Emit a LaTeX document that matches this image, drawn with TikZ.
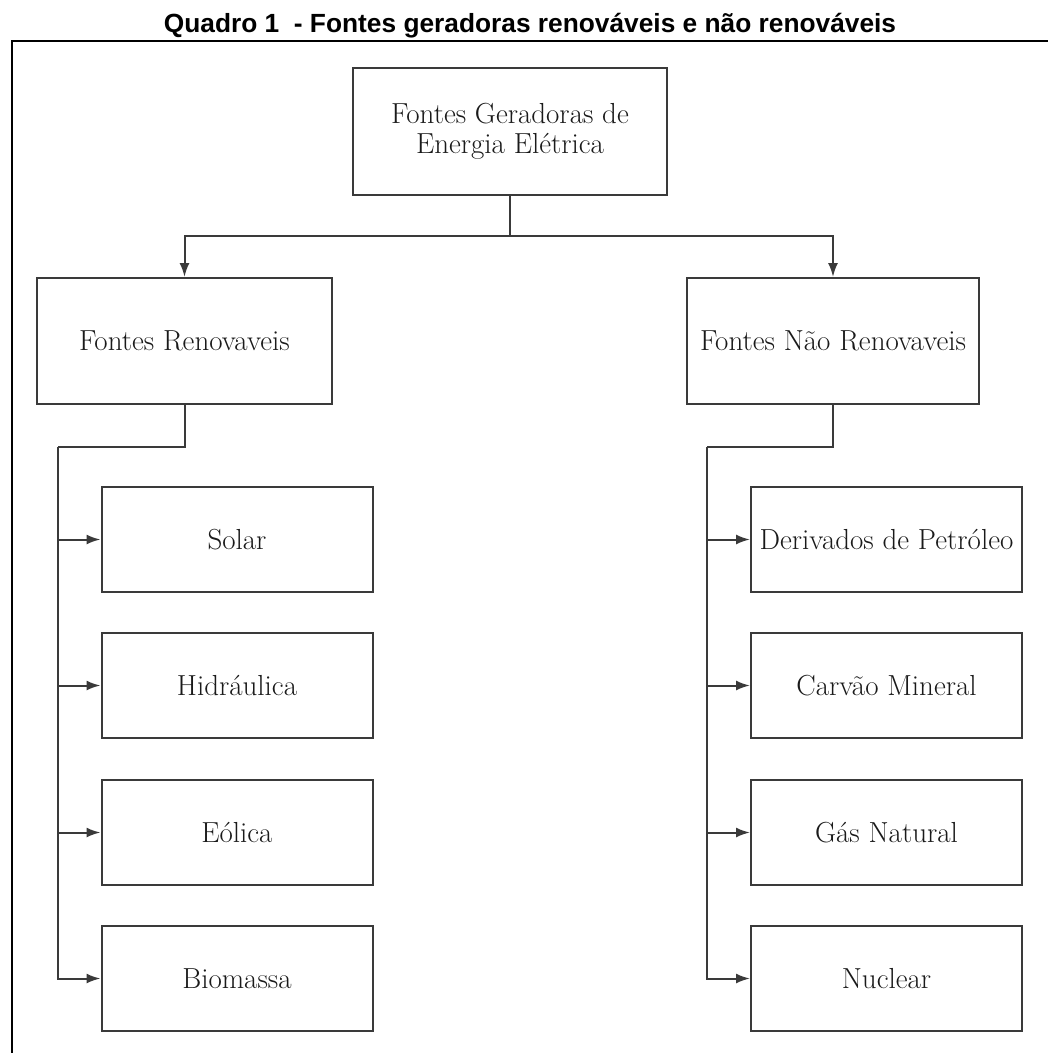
\documentclass[tikz,border=0pt]{standalone}
\usepackage{fontspec}
\newfontfamily\titlefont{Liberation Sans}
\usetikzlibrary{arrows.meta}
\definecolor{boxline}{HTML}{3A3A3A}
\definecolor{txt}{HTML}{1A1A1A}
\tikzset{
  box/.style={draw=boxline, line width=2pt, rectangle, align=center, inner sep=0pt,
    text=txt, font=\fontsize{29}{30}\selectfont},
  bigbox/.style={box, minimum width=#1, minimum height=126pt},
  smallbox/.style={box, minimum width=271pt, minimum height=105pt},
  conn/.style={draw=boxline, line width=2pt},
  arr/.style={conn, -{Latex[length=14pt,width=10pt]}},
  frame/.style={draw=black, line width=2.6pt}
}
\begin{document}
\begin{tikzpicture}[x=1pt,y=-1pt]
\useasboundingbox (0,0) rectangle (1048,1053);
% title and frame
\node[font=\titlefont\bfseries\fontsize{26.3}{30}\selectfont, anchor=base] (title) at (530,32)
  {Quadro 1\ \ - Fontes geradoras renováveis e não renováveis};
\coordinate (fr1) at (1050,41);
\coordinate (fr2) at (12,41);
\coordinate (fr3) at (12,1055);
\draw[frame] (fr1) -- (fr2) -- (fr3);
% boxes
\node[box, minimum width=314pt, minimum height=127pt] (top) at (510,131.5)
  {Fontes Geradoras de\\Energia Elétrica};
\node[bigbox=295pt] (ren) at (184.5,341) {Fontes Renovaveis};
\node[bigbox=292pt] (nren) at (833,341) {Fontes Não Renovaveis};
\node[smallbox] (solar) at (237,539.5) {Solar};
\node[smallbox] (hidr) at (237,685.5) {Hidráulica};
\node[smallbox] (eol) at (237,832.5) {Eólica};
\node[smallbox] (bio) at (237,978.5) {Biomassa};
\node[smallbox] (petr) at (886.5,539.5) {Derivados de Petróleo};
\node[smallbox] (carv) at (886.5,685.5) {Carvão Mineral};
\node[smallbox] (gas) at (886.5,832.5) {Gás Natural};
\node[smallbox] (nucl) at (886.5,978.5) {Nuclear};
% top connectors
\coordinate (hub) at (510,236);
\draw[conn] (top.south) -- (hub);
\draw[arr] (hub) -| (ren.north);
\draw[arr] (hub) -| (nren.north);
% left column
\coordinate (lb) at (58,447);
\draw[conn] (ren.south) |- (lb);
\draw[arr] (lb) |- (bio.west);
\draw[arr] (solar.west -| lb) -- (solar.west);
\draw[arr] (hidr.west -| lb) -- (hidr.west);
\draw[arr] (eol.west -| lb) -- (eol.west);
% right column
\coordinate (rb) at (707,447);
\draw[conn] (nren.south) |- (rb);
\draw[arr] (rb) |- (nucl.west);
\draw[arr] (petr.west -| rb) -- (petr.west);
\draw[arr] (carv.west -| rb) -- (carv.west);
\draw[arr] (gas.west -| rb) -- (gas.west);
\end{tikzpicture}
\end{document}
